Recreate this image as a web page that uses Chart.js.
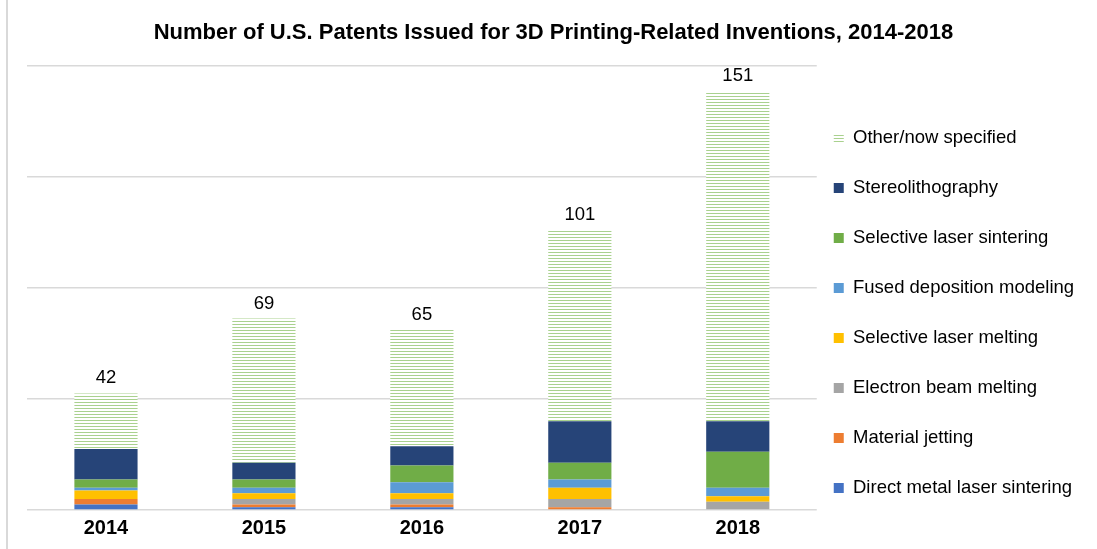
<!DOCTYPE html>
<html>
<head>
<meta charset="utf-8">
<script src="https://cdn.jsdelivr.net/npm/chart.js@4"></script>
<style>
  html, body { margin: 0; padding: 0; background: #fff; }
  #wrap { position: relative; width: 1097px; height: 549px; }
  #frame { position: absolute; left: 6px; top: 0; width: 2px; height: 549px; background: #d9d9d9; }
  canvas { position: absolute; left: 0; top: 0; }
</style>
</head>
<body>
<div id="wrap">
  <div id="frame"></div>
  <canvas id="c" width="1097" height="549"></canvas>
</div>
<script>
// Patents issued per year, by technology (stacked bottom to top)
const years = ['2014', '2015', '2016', '2017', '2018'];
const directMetalLaserSintering = [2, 1, 1, 0, 0];
const materialJetting           = [2, 1, 1, 1, 0];
const electronBeamMelting       = [0, 2, 2, 3, 3];
const selectiveLaserMelting     = [3, 2, 2, 4, 2];
const fusedDepositionModeling   = [1, 2, 4, 3, 3];
const selectiveLaserSintering   = [3, 3, 6, 6, 13];
const stereolithography         = [11, 6, 7, 15, 11];
const otherNotSpecified         = [20, 52, 42, 69, 119];
const yTicks = [0, 40, 80, 120, 160];

const FONT = "'Liberation Sans', Arial, sans-serif";
Chart.defaults.font.family = FONT;
Chart.defaults.color = '#000';

const canvas = document.getElementById('c');
const ctx = canvas.getContext('2d');

// horizontal light-green hatch for the unspecified category
function hatch() {
  const p = document.createElement('canvas');
  p.width = 8; p.height = 3;
  const g = p.getContext('2d');
  g.fillStyle = '#ffffff';
  g.fillRect(0, 0, 8, 3);
  g.fillStyle = '#a9d18e';
  g.fillRect(0, 0, 8, 1);
  return ctx.createPattern(p, 'repeat');
}

const series = [
  { label: 'Direct metal laser sintering', data: directMetalLaserSintering, color: '#4472c4' },
  { label: 'Material jetting',             data: materialJetting,           color: '#ed7d31' },
  { label: 'Electron beam melting',        data: electronBeamMelting,       color: '#a5a5a5' },
  { label: 'Selective laser melting',      data: selectiveLaserMelting,     color: '#ffc000' },
  { label: 'Fused deposition modeling',    data: fusedDepositionModeling,   color: '#5b9bd5' },
  { label: 'Selective laser sintering',    data: selectiveLaserSintering,   color: '#70ad47' },
  { label: 'Stereolithography',            data: stereolithography,         color: '#264478' },
  { label: 'Other/now specified',          data: otherNotSpecified,         color: hatch() }
];

const LEGEND_FONT = 18.5;
const LEGEND_PAD = 31.5;   // item pitch = font size + padding = 50px
const LEGEND_GAP = 17;     // plot edge to legend swatch
const LEGEND_FIRST = 138;  // centre line of the first legend entry

// totals written above each stacked column
const totalsPlugin = {
  id: 'totals',
  afterDatasetsDraw(chart) {
    const c = chart.ctx;
    const xs = chart.scales.x, ys = chart.scales.y;
    c.save();
    c.font = '18.5px ' + FONT;
    c.fillStyle = '#000';
    c.textAlign = 'center';
    c.textBaseline = 'alphabetic';
    years.forEach((yr, i) => {
      const total = chart.data.datasets.reduce((s, d) => s + d.data[i], 0);
      c.fillText(String(total), xs.getPixelForValue(i), ys.getPixelForValue(total) - 10);
    });
    c.restore();
  }
};

// place the legend column close to the plot, with its entries starting near the top
const legendPlacement = {
  id: 'legendPlacement',
  afterLayout(chart) {
    const lg = chart.legend;
    const ca = chart.chartArea;
    const n = chart.data.datasets.length;
    const pitch = LEGEND_FONT + LEGEND_PAD;
    lg.left = ca.right + LEGEND_GAP - LEGEND_PAD;
    lg.right = chart.width;
    lg.width = lg.right - lg.left;
    const cursorY = LEGEND_FIRST - LEGEND_FONT / 2;
    lg.top = cursorY - LEGEND_PAD - 2;
    lg.bottom = cursorY + n * pitch + 2;
    lg.height = lg.bottom - lg.top;
  }
};

new Chart(ctx, {
  type: 'bar',
  data: {
    labels: years,
    datasets: series.map(s => ({
      label: s.label,
      data: s.data,
      backgroundColor: s.color,
      borderWidth: 0,
      categoryPercentage: 1,
      barPercentage: 0.4
    }))
  },
  options: {
    responsive: false,
    animation: false,
    layout: { padding: { left: 27, right: 17, top: 0, bottom: 3 } },
    scales: {
      x: {
        stacked: true,
        grid: { display: false, drawTicks: false },
        border: { display: false },
        ticks: { font: { size: 20, weight: 'bold' }, color: '#000', padding: 6 }
      },
      y: {
        stacked: true,
        min: 0,
        max: 160,
        afterBuildTicks(scale) { scale.ticks = yTicks.map(v => ({ value: v })); },
        ticks: { display: false },
        grid: { color: '#d9d9d9', lineWidth: 1.5, drawTicks: false },
        border: { display: false }
      }
    },
    plugins: {
      title: {
        display: true,
        text: 'Number of U.S. Patents Issued for 3D Printing-Related Inventions, 2014-2018',
        font: { size: 22, weight: 'bold' },
        color: '#000',
        padding: { top: 20, bottom: 19.6 }
      },
      legend: {
        position: 'right',
        reverse: true,
        labels: {
          boxWidth: 10,
          boxHeight: 10,
          padding: LEGEND_PAD,
          color: '#000',
          font: { size: LEGEND_FONT }
        }
      },
      tooltip: { enabled: false }
    }
  },
  plugins: [totalsPlugin, legendPlacement]
});
</script>
</body>
</html>
